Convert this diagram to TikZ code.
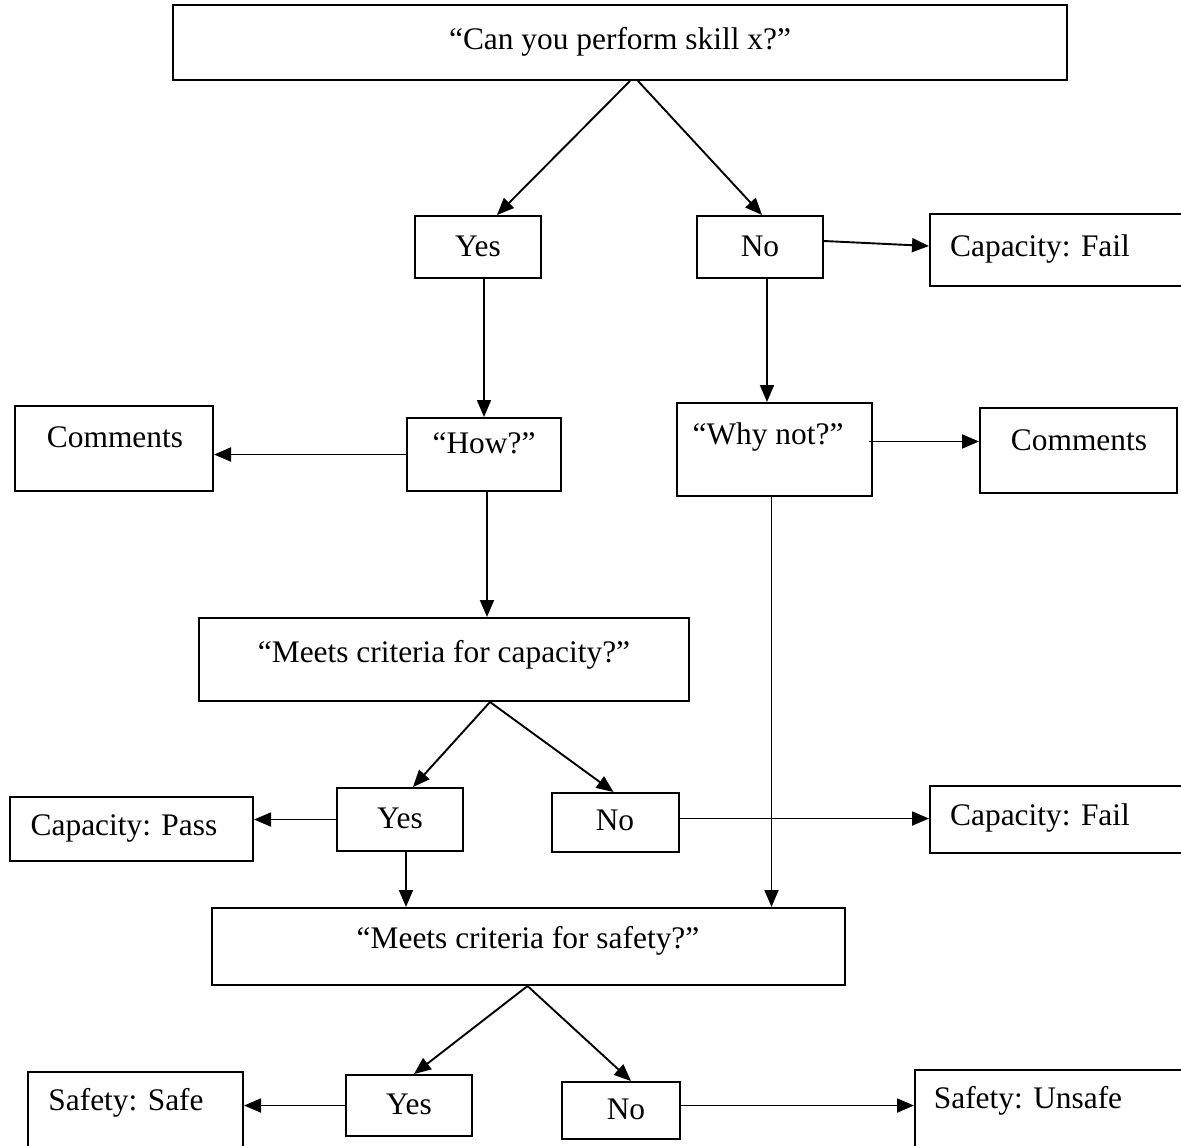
\documentclass[tikz,border=0pt]{standalone}
\usepackage{fontspec}
\setmainfont{Liberation Serif}
\usetikzlibrary{arrows.meta,fit,calc}
\begin{document}
\begin{tikzpicture}[x=0.5pt,y=-0.5pt,
  box/.style={draw,line width=1pt,inner sep=0pt},
  lbl/.style={anchor=base,inner sep=0pt,font=\fontsize{15.7}{18}\selectfont},
  arr/.style={line width=0.95pt,-{Triangle[length=8.5pt,width=7pt]}}]
\useasboundingbox (0,0) rectangle (1181,1145);
\clip (0,0) rectangle (1181,1145);
% boxes
\node[box, fit={(173,5) (1067,80)}] (top) {};
\node[box, fit={(415,216) (541,278)}] (yes1) {};
\node[box, fit={(697,216) (823,278)}] (no1) {};
\node[box, fit={(930,214) (1195,286)}] (cf1) {};
\node[box, fit={(407,418) (561,491)}] (how) {};
\node[box, fit={(15,406) (213,491)}] (com1) {};
\node[box, fit={(677,403) (872,496)}] (why) {};
\node[box, fit={(980,408) (1177,493)}] (com2) {};
\node[box, fit={(199,618) (689,701)}] (mcap) {};
\node[box, fit={(337,788) (463,851)}] (yes2) {};
\node[box, fit={(552,793) (679,852)}] (no2) {};
\node[box, fit={(10,797) (253,861)}] (cpass) {};
\node[box, fit={(930,786) (1195,853)}] (cf2) {};
\node[box, fit={(212,908) (845,985)}] (msafe) {};
\node[box, fit={(346,1075) (472,1136)}] (yes3) {};
\node[box, fit={(562,1082) (680,1139)}] (no3) {};
\node[box, fit={(28,1072) (243,1165)}] (safe) {};
\node[box, fit={(915,1070) (1195,1165)}] (unsafe) {};
% labels
\node[lbl] (ttop) at (620,50) {“Can you perform skill x?”};
\node[lbl] (tyes1) at (478,256) {Yes};
\node[lbl] (tno1) at (760,256) {No};
\node[lbl] (tcf1) at (1040,256) {Capacity: Fail};
\node[lbl] (tcom1) at (115,447) {Comments};
\node[lbl] (thow) at (484,453) {“How?”};
\node[lbl] (twhy) at (768,444) {“Why not?”};
\node[lbl] (tcom2) at (1079,450) {Comments};
\node[lbl] (tmcap) at (444,662) {“Meets criteria for capacity?”};
\node[lbl] (tyes2) at (400,828) {Yes};
\node[lbl] (tno2) at (615,830) {No};
\node[lbl] (tcpass) at (124,835) {Capacity: Pass};
\node[lbl] (tcf2) at (1040,825) {Capacity: Fail};
\node[lbl] (tmsafe) at (528,948) {“Meets criteria for safety?”};
\node[lbl] (tyes3) at (409,1114) {Yes};
\node[lbl] (tno3) at (626,1119) {No};
\node[lbl] (tsafe) at (126,1110) {Safety: Safe};
\node[lbl] (tunsafe) at (1028,1108) {Safety: Unsafe};
% connectors
\draw[arr] ($(top.south)+(10,0)$) -- ($(yes1.north)+(19,0)$);
\draw[arr] ($(top.south)+(18,0)$) -- ($(no1.north)+(2,0)$);
\draw[arr] ($(no1.east)+(0,-6)$) -- ($(cf1.west)+(0,-4)$);
\draw[arr] (how.north |- yes1.south) -- (how.north);
\draw[arr] (how.west) -- (com1.east |- how.west);
\draw[arr] ($(no1.south)+(7,0)$) coordinate (n1s) -- (n1s |- why.north);
\draw[arr] ($(why.east)+(-4,-8)$) coordinate (wyo) -- (com2.west |- wyo);
\draw[arr] ($(how.south)+(3,0)$) coordinate (hws) -- (hws |- mcap.north);
\draw[arr] ($(mcap.south)+(46,0)$) -- ($(yes2.north)+(13,0)$);
\draw[arr] ($(mcap.south)+(46,0)$) -- ($(no2.north)+(-2,0)$);
\draw[arr] (yes2.west) -- (cpass.east |- yes2.west);
\draw[arr] ($(no2.east)+(0,-4)$) coordinate (n2e) -- (cf2.west |- n2e);
\draw[arr] ($(yes2.south)+(6,0)$) coordinate (y2s) -- (y2s |- msafe.north);
\draw[arr] ($(why.south)+(-3,0)$) coordinate (wys) -- (wys |- msafe.north);
\draw[arr] ($(msafe.south)+(-1,0)$) -- ($(yes3.north)+(5,0)$);
\draw[arr] ($(msafe.south)+(-1,0)$) -- ($(no3.north)+(10,0)$);
\draw[arr] (yes3.west) -- (safe.east |- yes3.west);
\draw[arr] (no3.east |- yes3.west) coordinate (n3e) -- (unsafe.west |- n3e);
\end{tikzpicture}
\end{document}
